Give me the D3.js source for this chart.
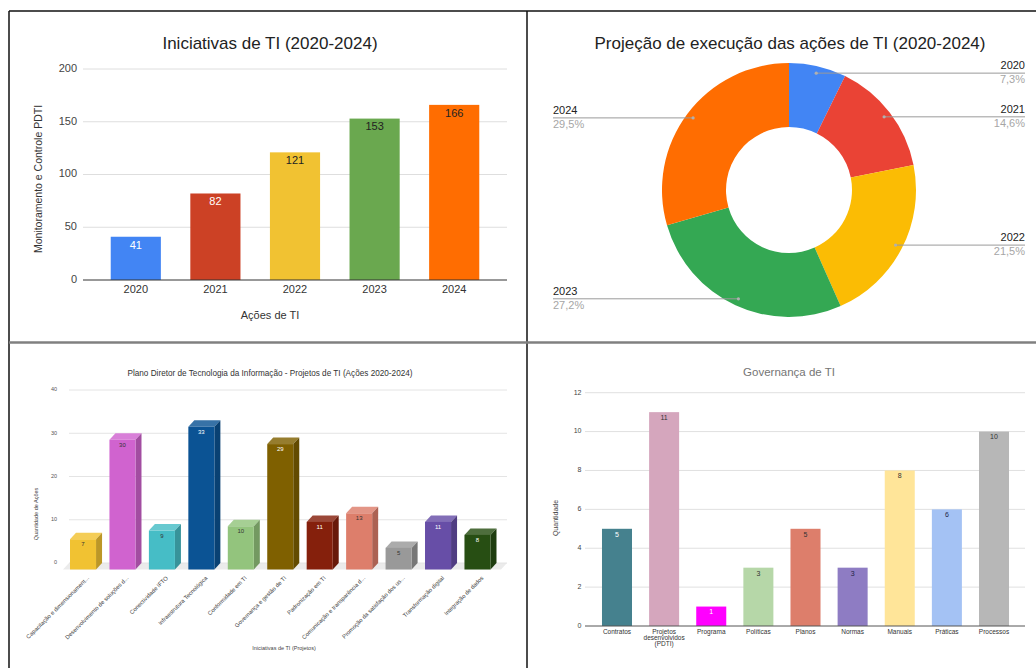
<!DOCTYPE html>
<html><head><meta charset="utf-8">
<script src="https://cdn.jsdelivr.net/npm/d3@7"></script>
<style>
html,body{margin:0;padding:0;background:#fff;}
svg{display:block;font-family:"Liberation Sans",Arial,sans-serif;}
</style></head>
<body>
<svg id="c" width="1036" height="668"></svg>
<script>
// ---------- DATA ----------
const years = ["2020","2021","2022","2023","2024"];
const iniciativas = [41, 82, 121, 153, 166];
const yTicks1 = [0, 50, 100, 150, 200];
const colors1 = ["#4285F4","#CC4125","#F1C232","#6AA84F","#FF6D01"];
const labelColors1 = ["#ffffff","#ffffff","#222222","#222222","#222222"];

const donutColors = ["#4285F4","#EA4335","#FBBC04","#34A853","#FF6D01"];

const projetos = ["Capacitação e dimensionament...","Desenvolvimento de soluções d...","Conectividade IFTO","Infraestrutura Tecnológica","Conformidade em TI","Governança e gestão de TI","Padronização em TI","Comunicação e transparência d...","Promoção da satisfação dos us...","Transformação digital","Integração de dados"];
const projetosValores = [7, 30, 9, 33, 10, 29, 11, 13, 5, 11, 8];
const yTicks3 = [0, 10, 20, 30, 40];
const colors3 = ["#F1C232","#D063CF","#46BDC6","#0B5394","#93C47D","#7F6000","#85200C","#DD7E6B","#999999","#674EA7","#274E13"];
const labelColors3 = ["#333","#333","#333","#fff","#333","#fff","#fff","#333","#333","#fff","#fff"];

const govCats = ["Contratos","Projetos desenvolvidos (PDTI)","Programa","Políticas","Planos","Normas","Manuais","Práticas","Processos"];
const govValores = [5, 11, 1, 3, 5, 3, 8, 6, 10];
const yTicks4 = [0, 2, 4, 6, 8, 10, 12];
const colors4 = ["#45818E","#D5A6BD","#FF00FF","#B6D7A8","#DD7E6B","#8E7CC3","#FFE599","#A4C2F4","#B7B7B7"];
const labelColors4 = ["#fff","#333","#fff","#333","#333","#222244","#333","#222244","#333"];

const svg = d3.select("#c");

// ---------- CHART 1: Iniciativas de TI ----------
(function(){
  const g = svg.append("g");
  const x = d3.scaleBand().domain(years).range([96, 494]).paddingInner(0.37).paddingOuter(0.185);
  const y = d3.scaleLinear().domain([0, 200]).range([280, 69]);
  g.append("text").attr("x", 270).attr("y", 45).attr("text-anchor","middle").attr("dominant-baseline","middle")
    .attr("font-size", 17).attr("fill","#222").text("Iniciativas de TI (2020-2024)");
  g.selectAll(".gl").data(yTicks1.filter(d=>d>0)).join("line")
    .attr("x1", 83).attr("x2", 507).attr("y1", d=>y(d)).attr("y2", d=>y(d))
    .attr("stroke","#dedede").attr("stroke-width",1);
  g.selectAll(".tl").data(yTicks1).join("text")
    .attr("x", 77).attr("y", d=>y(d)).attr("text-anchor","end").attr("dominant-baseline","middle")
    .attr("font-size", 11).attr("fill","#444").text(d=>d);
  g.selectAll(".bar").data(iniciativas).join("rect")
    .attr("x",(d,i)=>x(years[i])).attr("width", x.bandwidth())
    .attr("y", d=>y(d)).attr("height", d=>y(0)-y(d)).attr("fill",(d,i)=>colors1[i]);
  g.append("line").attr("x1",83).attr("x2",507).attr("y1",y(0)).attr("y2",y(0)).attr("stroke","#333").attr("stroke-width",1);
  g.selectAll(".vl").data(iniciativas).join("text")
    .attr("x",(d,i)=>x(years[i])+x.bandwidth()/2).attr("y", d=>y(d)+9)
    .attr("text-anchor","middle").attr("dominant-baseline","middle")
    .attr("font-size", 11).attr("fill",(d,i)=>labelColors1[i]).text(d=>d);
  g.selectAll(".xl").data(years).join("text")
    .attr("x", d=>x(d)+x.bandwidth()/2).attr("y", 290).attr("text-anchor","middle").attr("dominant-baseline","middle")
    .attr("font-size", 11).attr("fill","#333").text(d=>d);
  g.append("text").attr("x", 270).attr("y", 316).attr("text-anchor","middle").attr("dominant-baseline","middle")
    .attr("font-size", 11).attr("fill","#333").text("Ações de TI");
  g.append("text").attr("transform","translate(39,179) rotate(-90)").attr("text-anchor","middle").attr("dominant-baseline","middle")
    .attr("font-size", 10.5).attr("fill","#333").text("Monitoramento e Controle PDTI");
})();

// ---------- CHART 2: Donut ----------
(function(){
  const cx = 789, cy = 190, R = 127, r = 63;
  const g = svg.append("g");
  g.append("text").attr("x", 790).attr("y", 45).attr("text-anchor","middle").attr("dominant-baseline","middle")
    .attr("font-size", 17).attr("fill","#222").text("Projeção de execução das ações de TI (2020-2024)");
  const total = d3.sum(iniciativas);
  const pie = d3.pie().sort(null).value(d=>d);
  const arcs = pie(iniciativas);
  const arc = d3.arc().innerRadius(r).outerRadius(R);
  const gg = g.append("g").attr("transform",`translate(${cx},${cy})`);
  gg.selectAll("path").data(arcs).join("path").attr("d", arc).attr("fill",(d,i)=>donutColors[i]);
  const dotR = 120;
  arcs.forEach((a,i)=>{
    const m = (a.startAngle + a.endAngle)/2;
    const dx = cx + dotR*Math.sin(m), dy = cy - dotR*Math.cos(m);
    const right = Math.sin(m) > 0;
    const lx = right ? 1025 : 553;
    g.append("line").attr("x1", dx).attr("x2", lx).attr("y1", dy).attr("y2", dy).attr("stroke","#9a9a9a").attr("stroke-width",1);
    g.append("circle").attr("cx", dx).attr("cy", dy).attr("r", 1.6).attr("fill","#b0b0b0");
    g.append("text").attr("x", lx).attr("y", dy-7).attr("text-anchor", right?"end":"start").attr("dominant-baseline","middle")
      .attr("font-size", 11).attr("fill","#222").text(years[i]);
    g.append("text").attr("x", lx).attr("y", dy+7).attr("text-anchor", right?"end":"start").attr("dominant-baseline","middle")
      .attr("font-size", 11).attr("fill","#a6a6a6").text((iniciativas[i]/total*100).toFixed(1).replace(".",",")+"%");
  });
})();

// ---------- CHART 3: 3D bars ----------
(function(){
  const g = svg.append("g");
  const xB = d3.scaleBand().domain(projetos).range([69.3, 503.2]).paddingInner(0.34).paddingOuter(0.17);
  const y = d3.scaleLinear().domain([0, 40]).range([563, 390]);
  const ddx = 6, ddy = 6.5;
  g.append("text").attr("x", 270).attr("y", 374).attr("text-anchor","middle").attr("dominant-baseline","middle")
    .attr("font-size", 8.2).attr("fill","#333").text("Plano Diretor de Tecnologia da Informação - Projetos de TI (Ações 2020-2024)");
  // floor
  g.append("polygon").attr("points", `${69},${y(0)} ${507},${y(0)} ${507-ddx},${y(0)+ddy} ${69-ddx},${y(0)+ddy}`).attr("fill","#ebebeb");
  g.selectAll(".gl").data(yTicks3).join("line")
    .attr("x1", 69).attr("x2", 507).attr("y1", d=>y(d)).attr("y2", d=>y(d))
    .attr("stroke","#e4e4e4").attr("stroke-width",1);
  g.selectAll(".tl").data(yTicks3).join("text")
    .attr("x", 57).attr("y", d=>y(d)).attr("text-anchor","end").attr("dominant-baseline","middle")
    .attr("font-size", 5.5).attr("fill","#555").text(d=>d);
  const w = xB.bandwidth();
  projetosValores.forEach((v,i)=>{
    const xb = xB(projetos[i]), yt = y(v), yb = y(0);
    const c = d3.color(colors3[i]);
    const top = d3.interpolateRgb(colors3[i], "#ffffff")(0.18);
    const side = c.darker(0.7).formatHex();
    g.append("polygon").attr("points",
      `${xb-ddx},${yt+ddy} ${xb-ddx+w},${yt+ddy} ${xb+w},${yt} ${xb},${yt}`).attr("fill", top);
    g.append("polygon").attr("points",
      `${xb-ddx+w},${yt+ddy} ${xb+w},${yt} ${xb+w},${yb} ${xb-ddx+w},${yb+ddy}`).attr("fill", side);
    g.append("rect").attr("x", xb-ddx).attr("y", yt+ddy).attr("width", w).attr("height", yb-yt).attr("fill", colors3[i]);
    g.append("text").attr("x", xb-ddx+w/2).attr("y", yt+ddy+5.5).attr("text-anchor","middle").attr("dominant-baseline","middle")
      .attr("font-size", 6).attr("fill", labelColors3[i]).text(v);
  });
  g.selectAll(".xl").data(projetos).join("text")
    .attr("transform", d=>`translate(${xB(d)+w/2-1},577) rotate(-45)`)
    .attr("text-anchor","end").attr("dy","0.35em")
    .attr("font-size", 5.8).attr("fill","#444").text(d=>d);
  g.append("text").attr("x", 284).attr("y", 649).attr("text-anchor","middle").attr("dominant-baseline","middle")
    .attr("font-size", 5.5).attr("fill","#444").text("Iniciativas de TI (Projetos)");
  g.append("text").attr("transform","translate(37,514) rotate(-90)").attr("text-anchor","middle").attr("dominant-baseline","middle")
    .attr("font-size", 5.5).attr("fill","#444").text("Quantidade de Ações");
})();

// ---------- CHART 4: Governança de TI ----------
(function(){
  const g = svg.append("g");
  const x = d3.scaleBand().domain(govCats).range([593.5, 1017.5]).paddingInner(0.363).paddingOuter(0.18);
  const y = d3.scaleLinear().domain([0, 12]).range([626, 392.7]);
  g.append("text").attr("x", 789).attr("y", 373).attr("text-anchor","middle").attr("dominant-baseline","middle")
    .attr("font-size", 11.5).attr("fill","#757575").text("Governança de TI");
  g.selectAll(".gl").data(yTicks4.filter(d=>d>0)).join("line")
    .attr("x1", 585).attr("x2", 1025).attr("y1", d=>y(d)).attr("y2", d=>y(d))
    .attr("stroke","#e0e0e0").attr("stroke-width",1);
  g.selectAll(".tl").data(yTicks4).join("text")
    .attr("x", 581.5).attr("y", d=>y(d)).attr("text-anchor","end").attr("dominant-baseline","middle")
    .attr("font-size", 7).attr("fill","#444").text(d=>d);
  g.selectAll(".bar").data(govValores).join("rect")
    .attr("x",(d,i)=>x(govCats[i])).attr("width", x.bandwidth())
    .attr("y", d=>y(d)).attr("height", d=>y(0)-y(d)).attr("fill",(d,i)=>colors4[i]);
  g.append("line").attr("x1",585).attr("x2",1025).attr("y1",y(0)).attr("y2",y(0)).attr("stroke","#555").attr("stroke-width",1);
  g.selectAll(".vl").data(govValores).join("text")
    .attr("x",(d,i)=>x(govCats[i])+x.bandwidth()/2).attr("y", d=>y(d)+6)
    .attr("text-anchor","middle").attr("dominant-baseline","middle")
    .attr("font-size", 7).attr("fill",(d,i)=>labelColors4[i]).text(d=>d);
  govCats.forEach(c=>{
    const lines = c.length > 12 ? c.split(" ") : [c];
    const t = g.append("text").attr("x", x(c)+x.bandwidth()/2).attr("y", 632).attr("text-anchor","middle")
      .attr("dominant-baseline","middle").attr("font-size", 6.5).attr("fill","#333");
    lines.forEach((l,k)=>t.append("tspan").attr("x", x(c)+x.bandwidth()/2).attr("dy", k===0?0:6).text(l));
  });
  g.append("text").attr("transform","translate(556,518) rotate(-90)").attr("text-anchor","middle").attr("dominant-baseline","middle")
    .attr("font-size", 7).attr("fill","#444").text("Quantidade");
})();

// ---------- frame ----------
svg.append("line").attr("x1",9).attr("x2",1036).attr("y1",11).attr("y2",11).attr("stroke","#111").attr("stroke-width",1.5);
svg.append("line").attr("x1",9).attr("x2",9).attr("y1",11).attr("y2",668).attr("stroke","#111").attr("stroke-width",1.5);
svg.append("line").attr("x1",527).attr("x2",527).attr("y1",11).attr("y2",668).attr("stroke","#111").attr("stroke-width",1.5);
svg.append("line").attr("x1",9).attr("x2",1036).attr("y1",342.5).attr("y2",342.5).attr("stroke","#808080").attr("stroke-width",2.5);
</script>
</body></html>
